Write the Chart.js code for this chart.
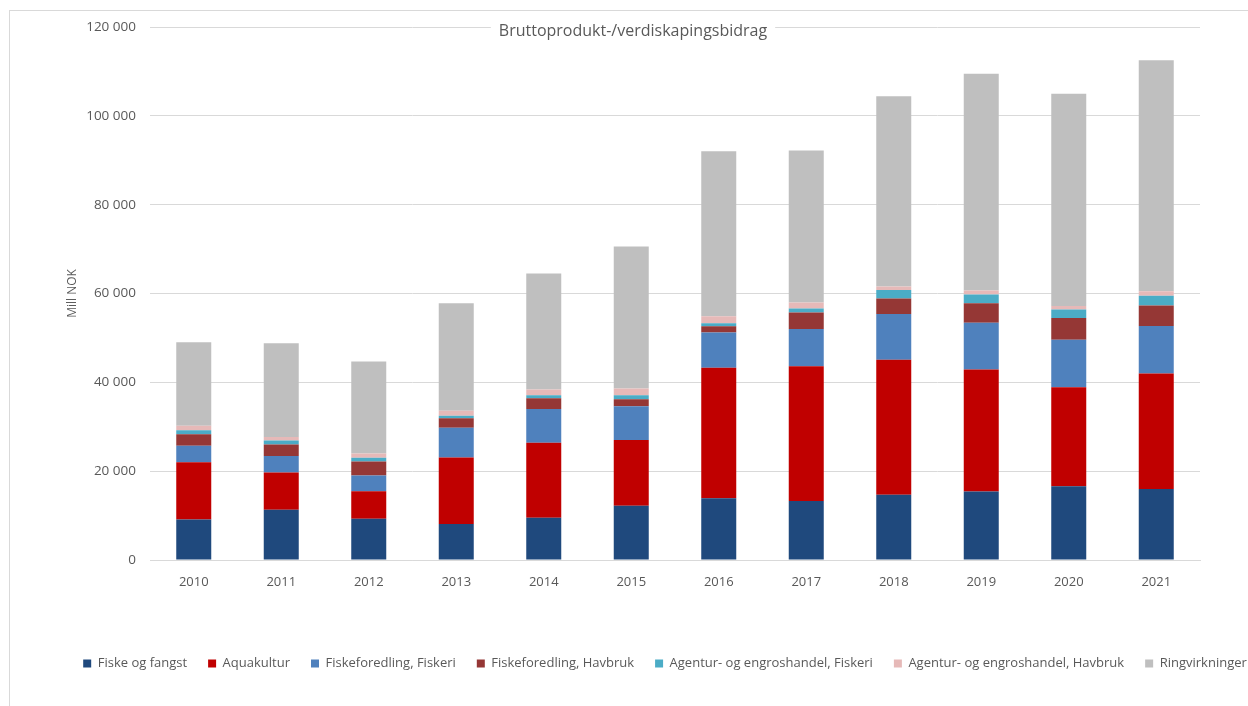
<!DOCTYPE html>
<html>
<head>
<meta charset="utf-8">
<script src="https://cdn.jsdelivr.net/npm/chart.js@4"></script>
<style>
  html, body { margin: 0; padding: 0; background: #fff; overflow: hidden; }
  #frame {
    position: absolute; left: 9px; top: 10px;
    width: 1310px; height: 700px;
    border: 1px solid #d9d9d9;
  }
  #chart { display: block; }
</style>
</head>
<body>
<div id="frame"><canvas id="chart" width="1310" height="694"></canvas></div>
<script>
const years = ["2010", "2011", "2012", "2013", "2014", "2015", "2016", "2017", "2018", "2019", "2020", "2021"];

const fiskeOgFangst = [9100, 11300, 9300, 8100, 9500, 12200, 13900, 13300, 14700, 15400, 16600, 16000];
const aquakultur = [12900, 8400, 6200, 15000, 16900, 14800, 29400, 30300, 30400, 27500, 22300, 26000];
const foredlingFiskeri = [3700, 3700, 3500, 6700, 7600, 7600, 7900, 8400, 10300, 10500, 10700, 10700];
const foredlingHavbruk = [2600, 2600, 3200, 2100, 2400, 1600, 1400, 3700, 3500, 4400, 4900, 4600];
const agenturFiskeri = [900, 900, 800, 600, 700, 900, 700, 900, 1900, 2000, 1900, 2200];
const agenturHavbruk = [1000, 800, 1000, 1100, 1300, 1500, 1600, 1400, 800, 900, 800, 1000];
const ringvirkninger = [18800, 21100, 20700, 24200, 26100, 32000, 37100, 34200, 42800, 48800, 47800, 52000];

const yTicks = [0, 20000, 40000, 60000, 80000, 100000, 120000];

const fontFamily = "'Open Sans', sans-serif";
const textColor = "#595959";
const gridColor = "#d9d9d9";

// title and axis title drawn on top, like the Excel original
const overlayText = {
  id: "overlayText",
  afterDatasetsDraw(chart) {
    const ctx = chart.ctx;
    const text = "Bruttoprodukt-/verdiskapingsbidrag";
    ctx.save();
    ctx.font = "16px " + fontFamily;
    const w = ctx.measureText(text).width;
    const cx = 623, cy = 20;
    ctx.fillStyle = "#fff";
    ctx.fillRect(cx - w / 2 - 8, cy - 11, w + 16, 22);
    ctx.fillStyle = textColor;
    ctx.textAlign = "center";
    ctx.textBaseline = "middle";
    ctx.fillText(text, cx, cy);

    ctx.font = "12px " + fontFamily;
    ctx.translate(63, (chart.chartArea.top + chart.chartArea.bottom) / 2);
    ctx.rotate(-Math.PI / 2);
    ctx.fillText("Mill NOK", 0, 0);
    ctx.restore();
  },
};

const series = [
  { label: "Fiske og fangst", data: fiskeOgFangst, color: "#1F497D" },
  { label: "Aquakultur", data: aquakultur, color: "#C00000" },
  { label: "Fiskeforedling, Fiskeri", data: foredlingFiskeri, color: "#4F81BD" },
  { label: "Fiskeforedling, Havbruk", data: foredlingHavbruk, color: "#953735" },
  { label: "Agentur- og engroshandel, Fiskeri", data: agenturFiskeri, color: "#4BACC6" },
  { label: "Agentur- og engroshandel, Havbruk", data: agenturHavbruk, color: "#E6B9B8" },
  { label: "Ringvirkninger", data: ringvirkninger, color: "#BFBFBF" },
];

new Chart(document.getElementById("chart"), {
  type: "bar",
  data: {
    labels: years,
    datasets: series.map((s) => ({
      label: s.label,
      data: s.data,
      backgroundColor: s.color,
      borderWidth: 0,
      categoryPercentage: 1,
      barPercentage: 0.4,
    })),
  },
  plugins: [overlayText],
  options: {
    responsive: false,
    animation: false,
    layout: { padding: { left: 0, right: 0, top: 16, bottom: 25 } },
    plugins: {
      legend: {
        position: "bottom",
        labels: {
          boxWidth: 8,
          boxHeight: 8,
          padding: 21,
          color: textColor,
          font: { family: fontFamily, size: 13 },
        },
      },
      tooltip: { enabled: false },
      title: { display: false },
    },
    scales: {
      x: {
        stacked: true,
        grid: { display: false, drawTicks: false },
        border: { display: true, color: gridColor },
        ticks: {
          padding: 14,
          color: textColor,
          font: { family: fontFamily, size: 13 },
        },
        afterFit: (scale) => {
          scale.height = 76;
          scale.paddingLeft = 0;
          scale.paddingRight = 0;
        },
      },
      y: {
        stacked: true,
        min: 0,
        max: 120000,
        afterBuildTicks: (scale) => {
          scale.ticks = yTicks.map((v) => ({ value: v }));
        },
        grid: { color: gridColor, drawTicks: false },
        border: { display: false },
        ticks: {
          padding: 14,
          color: textColor,
          font: { family: fontFamily, size: 13.5 },
          callback: (v) => v.toLocaleString("en-US").replace(/,/g, " "),
        },
        afterFit: (scale) => {
          scale.width = 140;
          scale.paddingTop = 0;
          scale.paddingBottom = 0;
        },
      },
      // empty right axis, only keeps space right of the plot
      spacer: {
        position: "right",
        display: true,
        grid: { display: false, drawTicks: false },
        border: { display: false },
        ticks: { display: false },
        afterFit: (scale) => { scale.width = 120; },
      },
    },
  },
});
</script>
</body>
</html>
